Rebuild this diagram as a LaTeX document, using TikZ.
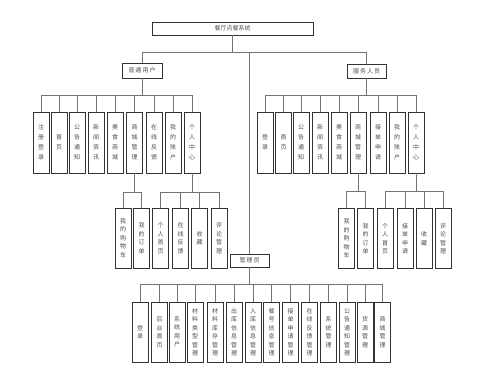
\documentclass[tikz,border=0pt]{standalone}
\usepackage{fontspec}
\setmainfont{Noto Sans CJK SC}
\begin{document}
\begin{tikzpicture}[x=1pt,y=-1pt,
  vbox/.style={draw=black!80, line width=0.7pt, minimum width=16pt, minimum height=61pt, inner sep=0pt, align=center, font=\fontsize{6}{10}\selectfont, text=black!70},
  vboxs/.style={vbox, minimum height=60pt, font=\fontsize{6}{8.5}\selectfont},
  hbox/.style={draw=black!80, line width=0.7pt, inner sep=0pt, font=\fontsize{6}{7}\selectfont, text=black!70},
  conn/.style={draw=black!55, line width=1pt}]
\useasboundingbox (0,0) rectangle (492,386);

\node[hbox, minimum width=161pt, minimum height=13pt] (top) at (232.5,28.5) {餐厅点餐系统};
\node[hbox, minimum width=40pt, minimum height=15pt] (pu) at (142,70.5) {普\,通\,用\,户};
\node[hbox, minimum width=39pt, minimum height=14pt] (fw) at (366.5,71) {服\,务\,人\,员};
\node[hbox, minimum width=39pt, minimum height=13pt] (gl) at (249.5,260.5) {管\,理\,员};

\draw[conn] (top.south) -- ++(0,17) -| (pu.north);
\draw[conn] (top.south) -- ++(0,17) -| (fw.north);
\draw[conn] (top.south) -- ++(0,17) -| (gl.north);

% left level 2
\foreach \x/\t/\n in {41/{注\\册\\登\\录}/l1, 59/{首\\页}/l2, 77/{公\\告\\通\\知}/l3, 96/{新\\闻\\资\\讯}/l4, 115/{美\\食\\商\\城}/l5, 134.5/{商\\城\\管\\理}/l6, 154/{在\\线\\反\\馈}/l7, 173/{我\\的\\账\\户}/l8, 192/{个\\人\\中\\心}/l9}{
  \node[vbox] (\n) at (\x,142.5) {\t};
  \draw[conn] (pu.south) -- ++(0,17) -| (\n.north);
}
% right level 2
\foreach \x/\t/\n in {265/{登\\录}/r1, 283.5/{首\\页}/r2, 301/{公\\告\\通\\知}/r3, 320/{新\\闻\\资\\讯}/r4, 339/{美\\食\\商\\城}/r5, 358/{商\\城\\管\\理}/r6, 378/{接\\单\\申\\请}/r7, 397/{我\\的\\账\\户}/r8, 416/{个\\人\\中\\心}/r9}{
  \node[vbox] (\n) at (\x,142.5) {\t};
  \draw[conn] (fw.south) -- ++(0,17) -| (\n.north);
}
% left level 3
\foreach \x/\t/\n in {123/{我\\的\\购\\物\\车}/la, 141.5/{我\\的\\订\\单}/lb}{
  \node[vboxs] (\n) at (\x,238) {\t};
  \draw[conn] (l6.south) -- ++(0,19) -| (\n.north);
}
\foreach \x/\t/\n in {160.5/{个\\人\\首\\页}/lc, 180.5/{在\\线\\反\\馈}/ld, 199.5/{收\\藏}/le, 219/{评\\论\\管\\理}/lf}{
  \node[vboxs] (\n) at (\x,238) {\t};
  \draw[conn] (l9.south) -- ++(0,19) -| (\n.north);
}
% right level 3
\foreach \x/\t/\n in {346.5/{我\\的\\购\\物\\车}/ra, 365.5/{我\\的\\订\\单}/rb}{
  \node[vboxs] (\n) at (\x,238.5) {\t};
  \draw[conn] (r6.south) -- ++(0,18) -| (\n.north);
}
\foreach \x/\t/\n in {385/{个\\人\\首\\页}/rc, 405/{接\\单\\申\\请}/rd, 424/{收\\藏}/re, 443/{评\\论\\管\\理}/rf}{
  \node[vboxs] (\n) at (\x,238.5) {\t};
  \draw[conn] (r9.south) -- ++(0,18) -| (\n.north);
}
% admin
\foreach \x/\t/\n in {140/{登\\录}/g1, 159.5/{后\\台\\首\\页}/g2, 177/{系\\统\\用\\户}/g3, 195/{材\\料\\类\\型\\管\\理}/g4, 215/{材\\料\\库\\存\\管\\理}/g5, 234/{出\\库\\信\\息\\管\\理}/g6, 253/{入\\库\\信\\息\\管\\理}/g7, 271.5/{餐\\号\\信\\息\\管\\理}/g8, 290.5/{接\\单\\申\\请\\管\\理}/g9, 309.5/{在\\线\\反\\馈\\管\\理}/g10, 328.5/{系\\统\\管\\理}/g11, 347/{公\\告\\通\\知\\管\\理}/g12, 365/{货\\源\\管\\理}/g13, 382.5/{商\\城\\管\\理}/g14}{
  \node[vboxs] (\n) at (\x,332) {\t};
  \draw[conn] (gl.south) -- ++(0,17) -| (\n.north);
}
\end{tikzpicture}
\end{document}
